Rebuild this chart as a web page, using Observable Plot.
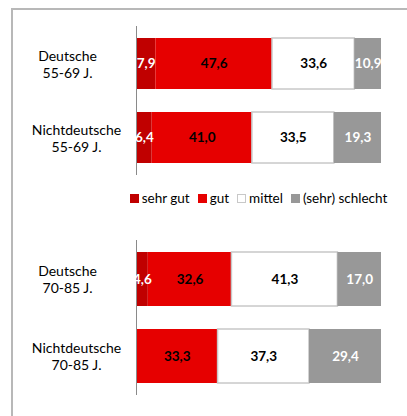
<!DOCTYPE html>
<html>
<head>
<meta charset="utf-8">
<script src="https://cdn.jsdelivr.net/npm/d3@7"></script>
<script src="https://cdn.jsdelivr.net/npm/@observablehq/plot@0.6"></script>
<style>
  html, body { margin: 0; padding: 0; background: #fff; }
  body { width: 407px; height: 416px; position: relative; overflow: hidden; font-family: Lato, "Open Sans", sans-serif; }
  #frame { position: absolute; left: 11px; top: 8px; width: 420px; height: 420px; border-left: 2px solid #b8b8b8; border-top: 2px solid #b8b8b8; }
  #chart1 { position: absolute; left: 0; top: 0; }
  #chart2 { position: absolute; left: 0; top: 214px; }
  #legend { position: absolute; left: 0; top: 190px; width: 517px; display: flex; justify-content: center; align-items: center; font-size: 13.5px; color: #000; white-space: nowrap; }
  .item { display: flex; align-items: center; margin-right: 8px; }
  .item:last-child { margin-right: 0; }
  .sw { width: 9px; height: 9px; box-sizing: border-box; margin-right: 3px; }
</style>
</head>
<body>
<div id="frame"></div>
<div id="chart1"></div>
<div id="legend"></div>
<div id="chart2"></div>
<script>
// ---- data ----
const groups = ["Deutsche\n55-69 J.", "Nichtdeutsche\n55-69 J.", "Deutsche\n70-85 J.", "Nichtdeutsche\n70-85 J."];
const panels = [1, 1, 2, 2];
const seriesNames = ["sehr gut", "gut", "mittel", "(sehr) schlecht"];
const sehrGut  = [7.9, 6.4, 4.6, 0];
const gut      = [47.6, 41.0, 32.6, 33.3];
const mittel   = [33.6, 33.5, 41.3, 37.3];
const schlecht = [10.9, 19.3, 17.0, 29.4];

// ---- styles ----
const seriesColors = ["#c00000", "#e60000", "#ffffff", "#989898"];
const labelColors  = ["#ffffff", "#000000", "#000000", "#ffffff"];
const strokeColors = ["none", "none", "#c8c8c8", "none"];

const values = [sehrGut, gut, mittel, schlecht];
const rows = [];
groups.forEach((g, i) => {
  seriesNames.forEach((s, k) => {
    rows.push({group: g, panel: panels[i], series: s, k, value: values[k][i]});
  });
});

const fmt = v => d3.format(".1f")(v).replace(".", ",");

function chart(panel, height, marginTop, marginBottom, padInner, padOuter) {
  const data = rows.filter(d => d.panel === panel);
  const dom = groups.filter((g, i) => panels[i] === panel);
  const deut = dom.filter(g => g.startsWith("Deutsche"));
  const nicht = dom.filter(g => g.startsWith("Nichtdeutsche"));
  return Plot.plot({
    width: 407,
    height,
    marginTop,
    marginBottom,
    marginLeft: 136,
    marginRight: 26,
    style: {fontFamily: "Lato, 'Open Sans', sans-serif", color: "#000", background: "transparent", overflow: "visible"},
    x: {domain: [0, 1], axis: null},
    y: {domain: dom, paddingInner: padInner, paddingOuter: padOuter, axis: null},
    color: {domain: seriesNames, range: seriesColors},
    marks: [
      Plot.barX(data, Plot.stackX({
        x: "value", y: "group", z: "series", offset: "normalize",
        fill: "series",
        stroke: {value: d => strokeColors[d.k], scale: null},
        strokeWidth: 1.5
      })),
      Plot.ruleX([0], {stroke: "#8a8a8a", strokeWidth: 1}),
      Plot.text(data, Plot.stackX({
        x: "value", y: "group", z: "series", offset: "normalize",
        text: d => d.value > 0 ? fmt(d.value) : "",
        fill: {value: d => labelColors[d.k], scale: null},
        fontWeight: "bold", fontSize: 13.5
      })),
      Plot.axisY({ticks: deut, tickSize: 0, tickPadding: 69, textAnchor: "middle", fontSize: 14, lineHeight: 1.2, label: null}),
      Plot.axisY({ticks: nicht, tickSize: 0, tickPadding: 60, textAnchor: "middle", fontSize: 14, lineHeight: 1.2, label: null})
    ]
  });
}

document.getElementById("chart1").appendChild(chart(1, 185, 26, 10, 0.31, 0.16));
document.getElementById("chart2").appendChild(chart(2, 190, 26, 9, 0.30, 0.156));

// ---- legend ----
const legend = d3.select("#legend");
seriesNames.forEach((s, k) => {
  const it = legend.append("div").attr("class", "item");
  it.append("div").attr("class", "sw")
    .style("background", seriesColors[k])
    .style("border", k === 2 ? "1px solid #c8c8c8" : "none");
  it.append("span").text(s);
});
</script>
</body>
</html>
